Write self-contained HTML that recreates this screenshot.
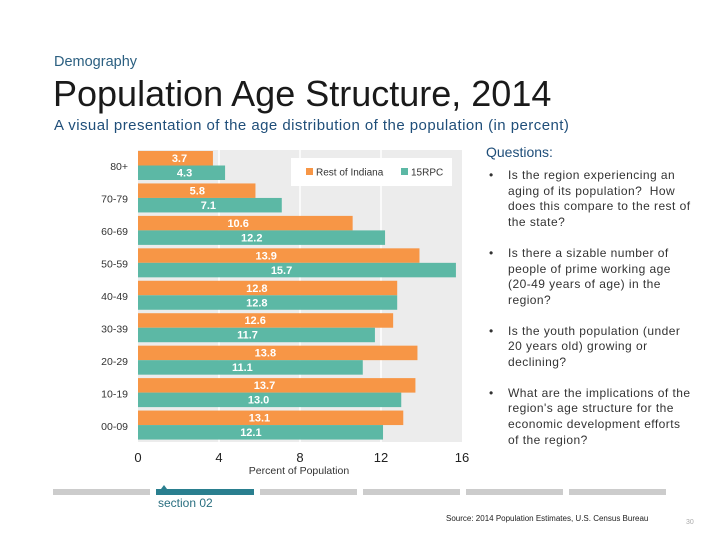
<!DOCTYPE html>
<html><head><meta charset="utf-8">
<style>
body{margin:0;width:720px;height:540px;background:#fff;font-family:"Liberation Sans",sans-serif;position:relative;overflow:hidden}
.abs{position:absolute}
</style></head><body>
<div class="abs" style="left:54px;top:54px;font-size:14.5px;color:#2b5f80">Demography</div>
<div class="abs" style="left:53px;top:73px;font-size:36px;color:#1a1a1a">Population Age Structure, 2014</div>
<div class="abs" style="left:54px;top:117px;font-size:15px;letter-spacing:0.45px;color:#1f4e79">A visual presentation of the age distribution of the population (in percent)</div>

<svg class="abs" style="left:0;top:0" width="720" height="540" id="chart">
</svg>

<div class="abs" style="left:486px;top:144px;font-size:14px;color:#1f4e79">Questions:</div>
<div class="abs" style="left:489px;top:168px;width:206px;font-size:12px;line-height:15.7px;color:#333;letter-spacing:0.45px">
<div style="position:relative;padding-left:19px;margin-bottom:15px"><span style="position:absolute;left:0">•</span>Is the region experiencing an aging of its population?&nbsp; How does this compare to the rest of the state?</div>
<div style="position:relative;padding-left:19px;margin-bottom:15px"><span style="position:absolute;left:0">•</span>Is there a sizable number of people of prime working age (20-49 years of age) in the region?</div>
<div style="position:relative;padding-left:19px;margin-bottom:15px"><span style="position:absolute;left:0">•</span>Is the youth population (under 20 years old) growing or declining?</div>
<div style="position:relative;padding-left:19px"><span style="position:absolute;left:0">•</span>What are the implications of the region's age structure for the economic development efforts of the region?</div>
</div>

<div class="abs" style="left:53px;top:489px;width:97px;height:6px;background:#ccc"></div>
<div class="abs" style="left:156px;top:489px;width:98px;height:6px;background:#2a7f8f"></div>
<div class="abs" style="left:161px;top:485px;width:0;height:0;border-left:3px solid transparent;border-right:3px solid transparent;border-bottom:4px solid #2a7f8f"></div>
<div class="abs" style="left:260px;top:489px;width:97px;height:6px;background:#ccc"></div>
<div class="abs" style="left:363px;top:489px;width:97px;height:6px;background:#ccc"></div>
<div class="abs" style="left:466px;top:489px;width:97px;height:6px;background:#ccc"></div>
<div class="abs" style="left:569px;top:489px;width:97px;height:6px;background:#ccc"></div>
<div class="abs" style="left:158px;top:496px;font-size:12px;color:#2a6f80">section 02</div>
<div class="abs" style="left:446px;top:514px;font-size:8px;color:#222">Source: 2014 Population Estimates, U.S. Census Bureau</div>
<div class="abs" style="left:686px;top:519px;font-size:7px;color:#aaa">30</div>

<script>
const categories=["80+","70-79","60-69","50-59","40-49","30-39","20-29","10-19","00-09"];
const restOfIndiana=[3.7,5.8,10.6,13.9,12.8,12.6,13.8,13.7,13.1];
const rpc15=[4.3,7.1,12.2,15.7,12.8,11.7,11.1,13.0,12.1];
const xTicks=[0,4,8,12,16];
const svg=document.getElementById('chart');
const NS='http://www.w3.org/2000/svg';
const X0=138,X1=462,Y0=150,Y1=442,XMAX=16;
const xs=v=>X0+(v/XMAX)*(X1-X0);
const band=(Y1-Y0)/categories.length;
function mk(t,a,p){const e=document.createElementNS(NS,t);for(const k in a)e.setAttribute(k,a[k]);(p||svg).appendChild(e);return e;}
const bg=mk('rect',{x:X0,y:Y0,width:X1-X0,height:Y1-Y0,fill:'#ececec'});


xTicks.forEach(t=>{
  if(t>0&&t<XMAX){const g=mk('line',{x1:xs(t),x2:xs(t),y1:Y0,y2:Y1,stroke:'#fff','stroke-width':1.5});
  
  }
  const l=mk('text',{x:xs(t),y:462,'text-anchor':'middle','font-size':13,fill:'#222'});l.textContent=t;
  
  
});
const xt=mk('text',{x:(X0+X1)/2-1,y:474,'text-anchor':'middle','font-size':10.5,fill:'#333'});xt.textContent='Percent of Population';


const bh=14.5;
categories.forEach((c,i)=>{
  const yb=Y0+i*band;
  const cl=mk('text',{x:128,y:yb+band/2+4,'text-anchor':'end','font-size':10.5,fill:'#333'});cl.textContent=c;
  
  
  [[restOfIndiana,'#f79646',yb+1],[rpc15,'#5cb8a5',yb+1+bh]].forEach(([arr,col,y])=>{
    const r=mk('rect',{x:X0,y:y,width:xs(arr[i])-X0,height:bh,fill:col});
    
    
    const t=mk('text',{x:X0+(xs(arr[i])-X0)*0.42+10,y:y+bh-3.5,'text-anchor':'middle','font-size':11,'font-weight':'bold',fill:'#fff'});
    t.textContent=arr[i].toFixed(1);
    
    
  });
});
const lg=mk('rect',{x:291,y:158,width:161,height:28,fill:'#fff'});


[['Rest of Indiana','#f79646',306],['15RPC','#5cb8a5',401]].forEach(([n,c,x])=>{
  const s=mk('rect',{x:x,y:168,width:7,height:7,fill:c});
  
  
  const t=mk('text',{x:x+10,y:175.5,'font-size':10,fill:'#333'});t.textContent=n;
  
  
});
</script>
</body></html>
